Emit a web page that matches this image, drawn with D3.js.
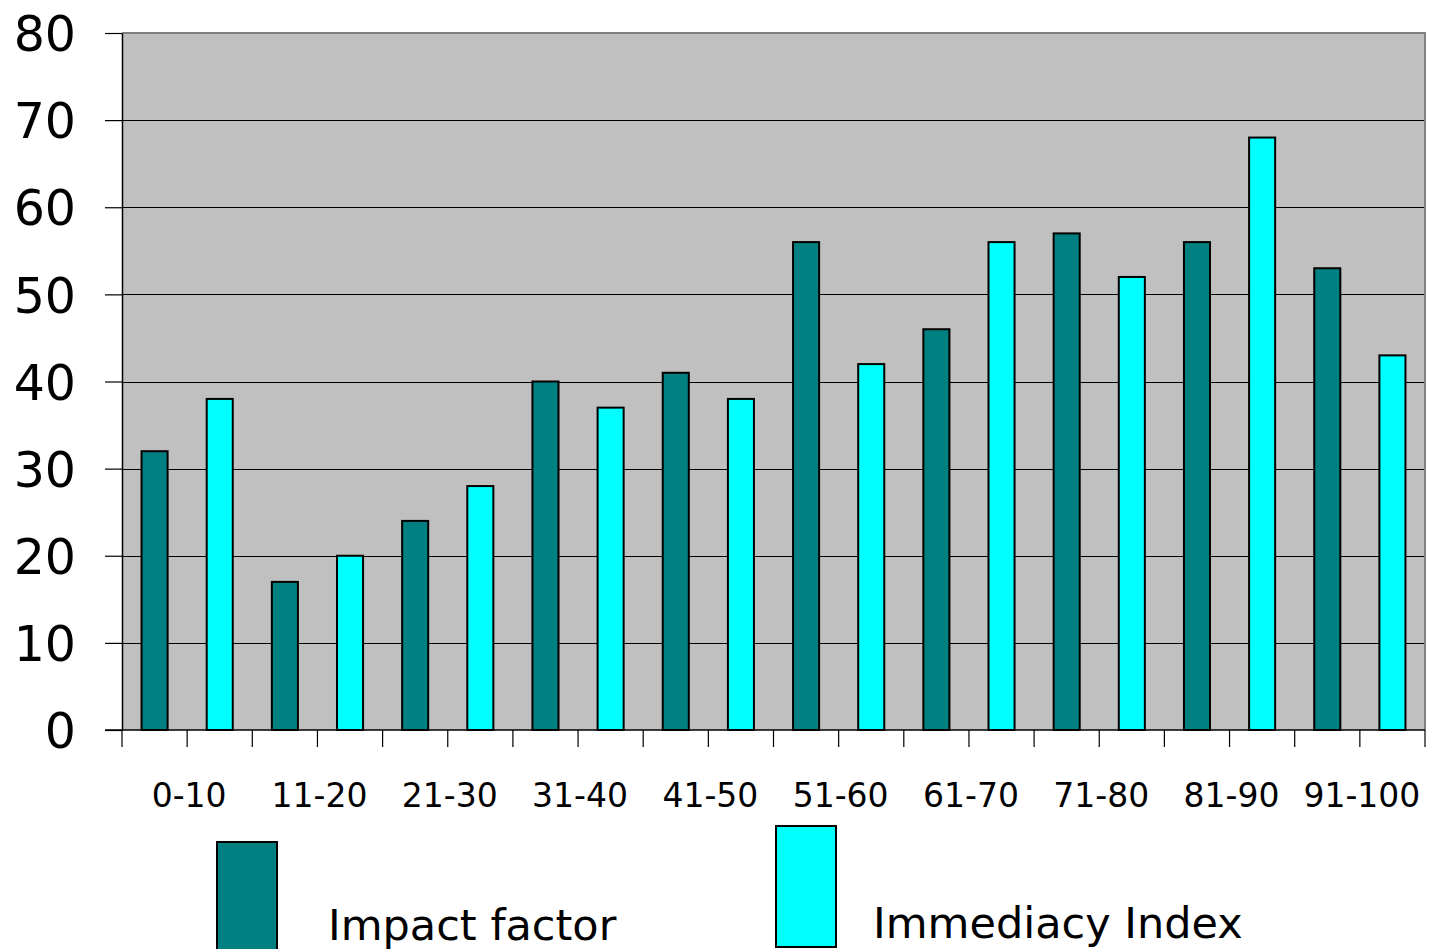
<!DOCTYPE html>
<html>
<head>
<meta charset="utf-8">
<script src="https://cdn.jsdelivr.net/npm/d3@7"></script>
<style>
  html, body { margin: 0; padding: 0; background: #ffffff; }
  svg { display: block; font-family: "DejaVu Sans", Verdana, sans-serif; }
</style>
</head>
<body>
<svg id="chart" width="1435" height="949"></svg>
<script>
// Score bands on the x axis
const categories = ["0-10", "11-20", "21-30", "31-40", "41-50", "51-60", "61-70", "71-80", "81-90", "91-100"];
// Two series, one value per band
const seriesNames = ["Impact factor", "Immediacy Index"];
const impactFactor = [32, 17, 24, 40, 41, 56, 46, 57, 56, 53];
const immediacyIndex = [38, 20, 28, 37, 38, 42, 56, 52, 68, 43];
const yTicks = [0, 10, 20, 30, 40, 50, 60, 70, 80];

const seriesColors = ["#008080", "#00FFFF"];
const seriesValues = [impactFactor, immediacyIndex];

const svg = d3.select("#chart");
const plot = { left: 122, right: 1425, top: 33, bottom: 730 };

// Outer scale: one band per category; inner scale: one slot per series
const x0 = d3.scaleBand().domain(categories).range([plot.left, plot.right]).padding(0);
const x1 = d3.scaleBand().domain(seriesNames).range([0, x0.bandwidth()])
  .paddingInner(0.6).paddingOuter(0.3);
const y = d3.scaleLinear().domain([0, 80]).range([plot.bottom, plot.top]);

// Plot background
svg.append("rect")
  .attr("x", plot.left).attr("y", plot.top)
  .attr("width", plot.right - plot.left).attr("height", plot.bottom - plot.top)
  .attr("fill", "#C0C0C0");

// Horizontal gridlines
svg.append("g").selectAll("line")
  .data(yTicks.filter(v => v > 0 && v < 80))
  .join("line")
  .attr("x1", plot.left).attr("x2", plot.right)
  .attr("y1", d => Math.round(y(d)) + 0.5).attr("y2", d => Math.round(y(d)) + 0.5)
  .attr("stroke", "#000").attr("stroke-width", 1);

// Top and right frame of the plot area
svg.append("path")
  .attr("d", `M${plot.left},${plot.top} H${plot.right} V${plot.bottom}`)
  .attr("fill", "none").attr("stroke", "#808080").attr("stroke-width", 2);

// Bars
const rows = categories.flatMap((c, i) => seriesNames.map((s, k) => ({ cat: c, series: s, k, value: seriesValues[k][i] })));
svg.append("g").selectAll("rect")
  .data(rows)
  .join("rect")
  .attr("x", d => x0(d.cat) + x1(d.series))
  .attr("y", d => y(d.value))
  .attr("width", x1.bandwidth())
  .attr("height", d => y(0) - y(d.value))
  .attr("fill", d => seriesColors[d.k])
  .attr("stroke", "#000").attr("stroke-width", 2);

// Y axis
const yAxis = svg.append("g")
  .attr("transform", `translate(${plot.left},0)`)
  .call(d3.axisLeft(y).tickValues(yTicks).tickSize(17).tickPadding(29).tickSizeOuter(0));
yAxis.select(".domain").attr("stroke", "#000").attr("stroke-width", 1.5);
yAxis.selectAll(".tick line").attr("stroke", "#000").attr("stroke-width", 1.2);
yAxis.selectAll(".tick text")
  .attr("font-family", "DejaVu Sans, Verdana, sans-serif")
  .attr("font-size", 49).attr("fill", "#000")
  .attr("dy", "0.36em");

// X axis baseline (runs under the y ticks as well)
svg.append("line")
  .attr("x1", plot.left - 17).attr("x2", plot.right)
  .attr("y1", plot.bottom).attr("y2", plot.bottom)
  .attr("stroke", "#000").attr("stroke-width", 1.5);

// X tick marks at every bar slot boundary
const slotEdges = categories.flatMap(c => [x0(c), x0(c) + x0.bandwidth() / 2]).concat([plot.right]);
svg.append("g").selectAll("line")
  .data(slotEdges)
  .join("line")
  .attr("x1", d => d).attr("x2", d => d)
  .attr("y1", plot.bottom).attr("y2", plot.bottom + 17)
  .attr("stroke", "#000").attr("stroke-width", 1.2);

// Category labels
const xAxis = svg.append("g")
  .attr("transform", `translate(2,${plot.bottom})`)
  .call(d3.axisBottom(x0).tickSize(0).tickPadding(54));
xAxis.select(".domain").remove();
xAxis.selectAll(".tick text")
  .attr("font-family", "DejaVu Sans, Verdana, sans-serif")
  .attr("font-size", 33).attr("fill", "#000");

// Legend
const legend = [
  { name: seriesNames[0], color: seriesColors[0], sx: 217, sy: 842, sh: 120, tx: 328, ty: 940 },
  { name: seriesNames[1], color: seriesColors[1], sx: 776, sy: 826, sh: 121, tx: 873, ty: 938 }
];
const lg = svg.append("g").selectAll("g").data(legend).join("g");
lg.append("rect")
  .attr("x", d => d.sx).attr("y", d => d.sy)
  .attr("width", 60).attr("height", d => d.sh)
  .attr("fill", d => d.color).attr("stroke", "#000").attr("stroke-width", 2);
lg.append("text")
  .attr("x", d => d.tx).attr("y", d => d.ty)
  .attr("font-size", 43).attr("fill", "#000")
  .text(d => d.name);
</script>
</body>
</html>
